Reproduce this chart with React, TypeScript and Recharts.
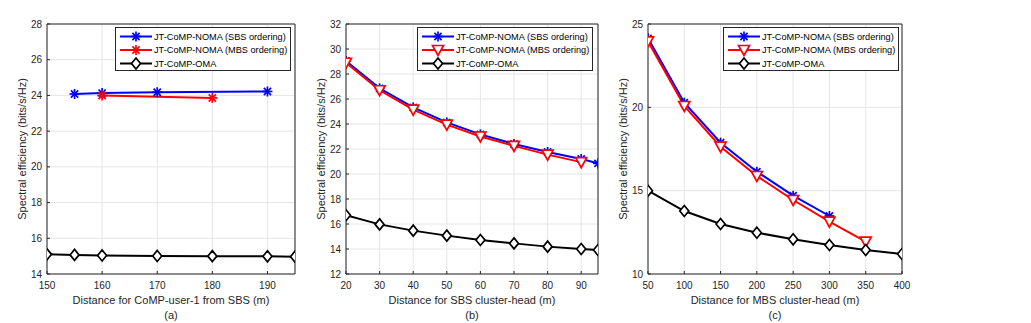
import React from 'react';
import { LineChart, Line, XAxis, YAxis, CartesianGrid } from 'recharts';

// (a) distance for CoMP-user-1 from SBS
const aSbsX = [155, 160, 170, 190];
const aSbsY = [24.08, 24.13, 24.18, 24.22];
const aMbsX = [160, 180];
const aMbsY = [24.0, 23.86];
const aOmaX = [150, 155, 160, 170, 180, 190, 195];
const aOmaY = [15.1, 15.07, 15.04, 15.01, 15.0, 14.99, 14.97];
const aXTicks = [150, 160, 170, 180, 190];
const aYTicks = [14, 16, 18, 20, 22, 24, 26, 28];

// (b) distance for SBS cluster-head
const bSbsX = [20, 30, 40, 50, 60, 70, 80, 90, 95];
const bSbsY = [29.04, 26.85, 25.33, 24.13, 23.17, 22.4, 21.76, 21.2, 20.85];
const bMbsX = [20, 30, 40, 50, 60, 70, 80, 90];
const bMbsY = [28.9, 26.7, 25.15, 23.95, 23.0, 22.25, 21.55, 20.95];
const bOmaX = [20, 30, 40, 50, 60, 70, 80, 90, 95];
const bOmaY = [16.7, 15.97, 15.47, 15.07, 14.72, 14.45, 14.19, 14.0, 13.92];
const bXTicks = [20, 30, 40, 50, 60, 70, 80, 90];
const bYTicks = [12, 14, 16, 18, 20, 22, 24, 26, 28, 30, 32];

// (c) distance for MBS cluster-head
const cSbsX = [50, 100, 150, 200, 250, 300];
const cSbsY = [24.14, 20.28, 17.88, 16.14, 14.7, 13.48];
const cMbsX = [50, 100, 150, 200, 250, 300, 350];
const cMbsY = [23.96, 20.08, 17.64, 15.88, 14.44, 13.14, 11.94];
const cOmaX = [50, 100, 150, 200, 250, 300, 350, 400];
const cOmaY = [15.0, 13.78, 13.0, 12.48, 12.08, 11.74, 11.44, 11.2];
const cXTicks = [50, 100, 150, 200, 250, 300, 350, 400];
const cYTicks = [10, 15, 20, 25];

const legendNames = ['JT-CoMP-NOMA (SBS ordering)', 'JT-CoMP-NOMA (MBS ordering)', 'JT-CoMP-OMA'];

const W = 1031;
const H = 323;
const TOP = 24;
const BOTTOM = 274;
const FONT = '"Liberation Sans", Arial, Helvetica, sans-serif';
const AXIS = '#262626';

const pts = (xs: number[], ys: number[]) => xs.map((x, i) => ({ x, y: ys[i] }));

function Asterisk({ cx, cy, color }: any) {
  const r = 5;
  const d = r * 0.72;
  return (
    <g stroke={color} strokeWidth={1.7}>
      <line x1={cx - r} y1={cy} x2={cx + r} y2={cy} />
      <line x1={cx} y1={cy - r} x2={cx} y2={cy + r} />
      <line x1={cx - d} y1={cy - d} x2={cx + d} y2={cy + d} />
      <line x1={cx - d} y1={cy + d} x2={cx + d} y2={cy - d} />
    </g>
  );
}

function TriDown({ cx, cy, color }: any) {
  return (
    <polygon
      points={`${cx - 5.5},${cy - 4.5} ${cx + 5.5},${cy - 4.5} ${cx},${cy + 5.5}`}
      fill="#fff"
      stroke={color}
      strokeWidth={1.7}
    />
  );
}

function Diamond({ cx, cy, color }: any) {
  return (
    <polygon
      points={`${cx},${cy - 5.5} ${cx + 4.5},${cy} ${cx},${cy + 5.5} ${cx - 4.5},${cy}`}
      fill="#fff"
      stroke={color}
      strokeWidth={1.7}
    />
  );
}

const markerFor = (kind: string) => (kind === 'star' ? Asterisk : kind === 'tri' ? TriDown : Diamond);

const dotFn = (kind: string, color: string) => (p: any) => {
  const M = markerFor(kind);
  return <M key={`d-${p.index}`} cx={p.cx} cy={p.cy} color={color} />;
};

function LegendBox({ left, mbsKind }: { left: number; mbsKind: string }) {
  const rows = [
    { name: legendNames[0], color: '#0000ff', kind: 'star' },
    { name: legendNames[1], color: '#ff0000', kind: mbsKind },
    { name: legendNames[2], color: '#000000', kind: 'diamond' },
  ];
  return (
    <div
      style={{
        position: 'absolute',
        left,
        top: 27,
        width: 174,
        height: 42,
        border: `1px solid ${AXIS}`,
        background: '#fff',
      }}
    >
      <svg width={174} height={42} style={{ position: 'absolute', left: 0, top: 0 }}>
        {rows.map((r, i) => {
          const y = 8.5 + i * 13.5;
          const M = markerFor(r.kind);
          return (
            <g key={r.name}>
              <line x1={4} y1={y} x2={36} y2={y} stroke={r.color} strokeWidth={2} />
              <M cx={20} cy={y} color={r.color} />
              <text x={38} y={y + 3.2} fontSize={9.2} fontFamily={FONT} fill="#000">
                {r.name}
              </text>
            </g>
          );
        })}
      </svg>
    </div>
  );
}

interface PanelProps {
  left: number;
  right: number;
  xDomain: [number, number];
  yDomain: [number, number];
  xTicks: number[];
  yTicks: number[];
  sbs: { x: number; y: number }[];
  mbs: { x: number; y: number }[];
  oma: { x: number; y: number }[];
  mbsKind: string;
  xLabel: string;
  tag: string;
  yLabelX: number;
  legendLeft: number;
}

function Panel(p: PanelProps) {
  const tickStyle = { fontSize: 10, fill: AXIS, fontFamily: FONT };
  const mid = (p.left + p.right) / 2;
  return (
    <>
      <div style={{ position: 'absolute', left: 0, top: 0 }}>
        <LineChart
          width={W}
          height={H}
          margin={{ top: TOP - 5, right: W - p.right - 5, bottom: H - BOTTOM - 30, left: p.left - 30 }}
        >
          <CartesianGrid stroke="#e6e6e6" strokeWidth={1} />
          <XAxis
            xAxisId={0}
            type="number"
            dataKey="x"
            domain={p.xDomain}
            ticks={p.xTicks}
            allowDataOverflow
            height={30}
            stroke={AXIS}
            tickSize={-3}
            tickMargin={11}
            tick={tickStyle}
          />
          <XAxis
            xAxisId="top"
            orientation="top"
            type="number"
            dataKey="x"
            domain={p.xDomain}
            ticks={p.xTicks}
            allowDataOverflow
            height={5}
            stroke={AXIS}
            tickSize={-3}
            tick={false}
          />
          <YAxis
            yAxisId={0}
            type="number"
            domain={p.yDomain}
            ticks={p.yTicks}
            allowDataOverflow
            width={30}
            stroke={AXIS}
            tickSize={-3}
            tickMargin={8}
            tick={tickStyle}
          />
          <YAxis
            yAxisId="right"
            orientation="right"
            type="number"
            domain={p.yDomain}
            ticks={p.yTicks}
            allowDataOverflow
            width={5}
            stroke={AXIS}
            tickSize={-3}
            tick={false}
          />
          <Line
            data={p.sbs}
            dataKey="y"
            stroke="#0000ff"
            strokeWidth={2}
            dot={dotFn('star', '#0000ff')}
            isAnimationActive={false}
          />
          <Line
            data={p.mbs}
            dataKey="y"
            stroke="#ff0000"
            strokeWidth={2}
            dot={dotFn(p.mbsKind, '#ff0000')}
            isAnimationActive={false}
          />
          <Line
            data={p.oma}
            dataKey="y"
            stroke="#000000"
            strokeWidth={2}
            dot={dotFn('diamond', '#000000')}
            isAnimationActive={false}
          />
        </LineChart>
      </div>
      <LegendBox left={p.legendLeft} mbsKind={p.mbsKind} />
      <div
        style={{
          position: 'absolute',
          left: mid - 150,
          width: 300,
          top: 293,
          textAlign: 'center',
          fontSize: 11,
          fontFamily: FONT,
          color: AXIS,
          lineHeight: '15px',
        }}
      >
        {p.xLabel}
        <br />
        {p.tag}
      </div>
      <div
        style={{
          position: 'absolute',
          left: p.yLabelX - 100,
          top: (TOP + BOTTOM) / 2 - 7,
          width: 200,
          height: 14,
          lineHeight: '14px',
          textAlign: 'center',
          transform: 'rotate(-90deg)',
          fontSize: 11,
          fontFamily: FONT,
          color: AXIS,
        }}
      >
        Spectral efficiency (bits/s/Hz)
      </div>
    </>
  );
}

export default function App() {
  return (
    <div style={{ position: 'absolute', left: 0, top: 0, width: W, height: H, background: '#fff', overflow: 'hidden' }}>
      <Panel
        left={47}
        right={295}
        xDomain={[150, 195]}
        yDomain={[14, 28]}
        xTicks={aXTicks}
        yTicks={aYTicks}
        sbs={pts(aSbsX, aSbsY)}
        mbs={pts(aMbsX, aMbsY)}
        oma={pts(aOmaX, aOmaY)}
        mbsKind="star"
        xLabel="Distance for CoMP-user-1 from SBS (m)"
        tag="(a)"
        yLabelX={22}
        legendLeft={115}
      />
      <Panel
        left={346}
        right={598}
        xDomain={[20, 95]}
        yDomain={[12, 32]}
        xTicks={bXTicks}
        yTicks={bYTicks}
        sbs={pts(bSbsX, bSbsY)}
        mbs={pts(bMbsX, bMbsY)}
        oma={pts(bOmaX, bOmaY)}
        mbsKind="tri"
        xLabel="Distance for SBS cluster-head (m)"
        tag="(b)"
        yLabelX={321}
        legendLeft={417}
      />
      <Panel
        left={648}
        right={902}
        xDomain={[50, 400]}
        yDomain={[10, 25]}
        xTicks={cXTicks}
        yTicks={cYTicks}
        sbs={pts(cSbsX, cSbsY)}
        mbs={pts(cMbsX, cMbsY)}
        oma={pts(cOmaX, cOmaY)}
        mbsKind="tri"
        xLabel="Distance for MBS cluster-head (m)"
        tag="(c)"
        yLabelX={623}
        legendLeft={723}
      />
    </div>
  );
}
